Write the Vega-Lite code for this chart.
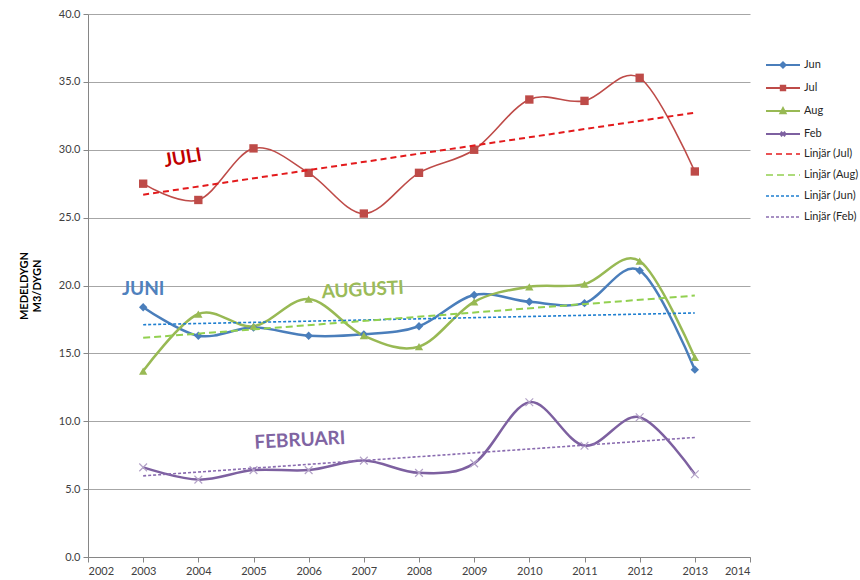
{
  "$schema": "https://vega.github.io/schema/vega-lite/v6.json",
  "width": 662,
  "height": 543,
  "autosize": {"type": "none"},
  "padding": {"left": 88, "top": 14, "right": 110, "bottom": 23},
  "background": "white",
  "config": {
    "view": {"stroke": null},
    "font": "Lato",
    "axis": {"labelFont": "Lato", "labelFontSize": 11, "labelColor": "#404040", "domainColor": "#868686", "tickColor": "#868686", "gridColor": "#a6a6a6", "titleFont": "Lato"},
    "legend": {"labelFont": "Lato", "labelFontSize": 11, "labelColor": "#262626"}
  },
  "data": {"values": [
    {"year": 2003, "series": "Jun", "value": 18.4}, {"year": 2004, "series": "Jun", "value": 16.3}, {"year": 2005, "series": "Jun", "value": 16.9}, {"year": 2006, "series": "Jun", "value": 16.3}, {"year": 2007, "series": "Jun", "value": 16.4}, {"year": 2008, "series": "Jun", "value": 17.0}, {"year": 2009, "series": "Jun", "value": 19.3}, {"year": 2010, "series": "Jun", "value": 18.8}, {"year": 2011, "series": "Jun", "value": 18.7}, {"year": 2012, "series": "Jun", "value": 21.1}, {"year": 2013, "series": "Jun", "value": 13.8},
    {"year": 2003, "series": "Jul", "value": 27.5}, {"year": 2004, "series": "Jul", "value": 26.3}, {"year": 2005, "series": "Jul", "value": 30.1}, {"year": 2006, "series": "Jul", "value": 28.3}, {"year": 2007, "series": "Jul", "value": 25.3}, {"year": 2008, "series": "Jul", "value": 28.3}, {"year": 2009, "series": "Jul", "value": 30.0}, {"year": 2010, "series": "Jul", "value": 33.7}, {"year": 2011, "series": "Jul", "value": 33.6}, {"year": 2012, "series": "Jul", "value": 35.3}, {"year": 2013, "series": "Jul", "value": 28.4},
    {"year": 2003, "series": "Aug", "value": 13.7}, {"year": 2004, "series": "Aug", "value": 17.9}, {"year": 2005, "series": "Aug", "value": 17.0}, {"year": 2006, "series": "Aug", "value": 19.0}, {"year": 2007, "series": "Aug", "value": 16.3}, {"year": 2008, "series": "Aug", "value": 15.5}, {"year": 2009, "series": "Aug", "value": 18.8}, {"year": 2010, "series": "Aug", "value": 19.9}, {"year": 2011, "series": "Aug", "value": 20.1}, {"year": 2012, "series": "Aug", "value": 21.8}, {"year": 2013, "series": "Aug", "value": 14.7},
    {"year": 2003, "series": "Feb", "value": 6.6}, {"year": 2004, "series": "Feb", "value": 5.7}, {"year": 2005, "series": "Feb", "value": 6.4}, {"year": 2006, "series": "Feb", "value": 6.4}, {"year": 2007, "series": "Feb", "value": 7.1}, {"year": 2008, "series": "Feb", "value": 6.2}, {"year": 2009, "series": "Feb", "value": 6.9}, {"year": 2010, "series": "Feb", "value": 11.4}, {"year": 2011, "series": "Feb", "value": 8.2}, {"year": 2012, "series": "Feb", "value": 10.3}, {"year": 2013, "series": "Feb", "value": 6.1}
  ]},
  "encoding": {
    "x": {"field": "year", "type": "quantitative", "scale": {"domain": [2002, 2014], "nice": false, "zero": false},
      "axis": {"values": [2002, 2003, 2004, 2005, 2006, 2007, 2008, 2009, 2010, 2011, 2012, 2013, 2014], "format": "d", "title": null, "grid": false, "tickSize": 5, "labelPadding": 3}},
    "y": {"field": "value", "type": "quantitative", "scale": {"domain": [0, 40], "nice": false},
      "axis": {"values": [0, 5, 10, 15, 20, 25, 30, 35, 40], "format": ".1f", "tickSize": 5, "labelPadding": 3,
        "title": ["MEDELDYGN", "M3/DYGN"], "titleFontWeight": "bold", "titleFontSize": 11, "titleColor": "#000000", "titlePadding": 16}}
  },
  "layer": [
    {
      "layer": [
        {
          "transform": [{"filter": "datum.series !== 'Jul'"}],
          "mark": {"type": "line", "interpolate": "cardinal", "tension": 0, "strokeWidth": 2.5},
          "encoding": {
            "color": {"field": "series", "type": "nominal",
              "scale": {"domain": ["Jun", "Jul", "Aug", "Feb"], "range": ["#4a7ebb", "#be4b48", "#98b954", "#7d60a0"]},
              "legend": {"title": null, "orient": "none", "legendX": 684, "legendY": 40, "symbolSize": 400, "rowPadding": 5, "labelOffset": 10,
                "symbolStrokeWidth": 2,
                "encode": {"symbols": {"update": {
                  "shape": {"signal": "datum.value === 'Jun' ? 'M-1.7,0H1.7M-0.26,0L0,-0.26L0.26,0L0,0.26Z' : datum.value === 'Jul' ? 'M-1.7,0H1.7M-0.22,-0.22H0.22V0.22H-0.22Z' : datum.value === 'Aug' ? 'M-1.7,0H1.7M-0.26,0.22L0,-0.28L0.26,0.22Z' : 'M-1.7,0H1.7M-0.22,-0.22L0.22,0.22M-0.22,0.22L0.22,-0.22'"},
                  "fill": {"signal": "datum.value === 'Jun' ? '#4a7ebb' : datum.value === 'Jul' ? '#be4b48' : datum.value === 'Aug' ? '#98b954' : '#7d60a0'"},
                  "stroke": {"signal": "datum.value === 'Jun' ? '#4a7ebb' : datum.value === 'Jul' ? '#be4b48' : datum.value === 'Aug' ? '#98b954' : '#7d60a0'"},
                  "strokeWidth": {"value": 2},
                  "opacity": {"value": 1}
                }}}
              }}
          }
        },
        {
          "transform": [{"filter": "datum.series === 'Jul'"}],
          "mark": {"type": "line", "interpolate": "cardinal", "tension": 0, "strokeWidth": 1.6},
          "encoding": {
            "color": {"field": "series", "type": "nominal"}
          }
        },
        {
          "transform": [{"filter": "datum.series !== 'Feb'"}],
          "mark": {"type": "point", "filled": true, "opacity": 1},
          "encoding": {
            "color": {"field": "series", "type": "nominal"},
            "shape": {"field": "series", "type": "nominal", "scale": {"domain": ["Jun", "Jul", "Aug"], "range": ["diamond", "square", "triangle-up"]}, "legend": null},
            "size": {"value": 70}
          }
        },
        {
          "transform": [{"filter": "datum.series === 'Feb'"}],
          "mark": {"type": "point", "filled": false, "shape": "M-1,-1L1,1M-1,1L1,-1", "size": 60, "stroke": "#b3a2c7", "strokeWidth": 1.2, "opacity": 1},
          "encoding": {}
        }
      ]
    },
    {
      "transform": [{"regression": "value", "on": "year", "groupby": ["series"]}],
      "mark": {"type": "line"},
      "encoding": {
        "color": {"field": "series", "type": "nominal",
          "scale": {"domain": ["Jul", "Aug", "Jun", "Feb"], "range": ["#e31a1c", "#92d050", "#1f7fd0", "#8a6cb0"]},
          "legend": {"title": null, "orient": "none", "legendX": 684, "legendY": 129, "symbolSize": 400, "rowPadding": 5, "labelOffset": 10,
            "labelExpr": "'Linjär (' + datum.label + ')'",
            "symbolType": "M-1.7,0H1.7", "symbolStrokeWidth": 1.6}},
        "strokeDash": {"field": "series", "type": "nominal",
          "scale": {"domain": ["Jul", "Aug", "Jun", "Feb"], "range": [[6, 4], [7, 4], [3, 2], [3, 2]]},
          "legend": {"title": null, "orient": "none", "legendX": 684, "legendY": 129, "symbolSize": 400, "rowPadding": 5, "labelOffset": 10,
            "labelExpr": "'Linjär (' + datum.label + ')'",
            "symbolType": "M-1.7,0H1.7", "symbolStrokeWidth": 1.6}},
        "strokeWidth": {"condition": {"test": "datum.series === 'Jul' || datum.series === 'Aug'", "value": 2}, "value": 1.6},
        "detail": {"field": "series"}
      }
    },
    {
      "transform": [{"filter": "datum.year === 2003 && datum.series === 'Jun'"}],
      "mark": {"type": "text", "text": "JULI", "font": "Lato", "fontSize": 19, "fontWeight": "bold", "fill": "#c00000", "angle": 350, "align": "center", "baseline": "middle"},
      "encoding": {"x": {"datum": 2003.72}, "y": {"datum": 29.4}}
    },
    {
      "transform": [{"filter": "datum.year === 2003 && datum.series === 'Jun'"}],
      "mark": {"type": "text", "text": "JUNI", "font": "Lato", "fontSize": 19, "fontWeight": "bold", "fill": "#4f81bd", "angle": 0, "align": "center", "baseline": "middle"},
      "encoding": {"x": {"datum": 2003.0}, "y": {"datum": 19.75}}
    },
    {
      "transform": [{"filter": "datum.year === 2003 && datum.series === 'Jun'"}],
      "mark": {"type": "text", "text": "AUGUSTI", "font": "Lato", "fontSize": 19, "fontWeight": "bold", "fill": "#9bbb59", "angle": 357, "align": "center", "baseline": "middle"},
      "encoding": {"x": {"datum": 2006.98}, "y": {"datum": 19.67}}
    },
    {
      "transform": [{"filter": "datum.year === 2003 && datum.series === 'Jun'"}],
      "mark": {"type": "text", "text": "FEBRUARI", "font": "Lato", "fontSize": 19, "fontWeight": "bold", "fill": "#8064a2", "angle": 357, "align": "center", "baseline": "middle"},
      "encoding": {"x": {"datum": 2005.84}, "y": {"datum": 8.6}}
    }
  ],
  "resolve": {"scale": {"color": "independent", "strokeWidth": "independent", "strokeDash": "independent"}, "legend": {"color": "independent"}}
}
